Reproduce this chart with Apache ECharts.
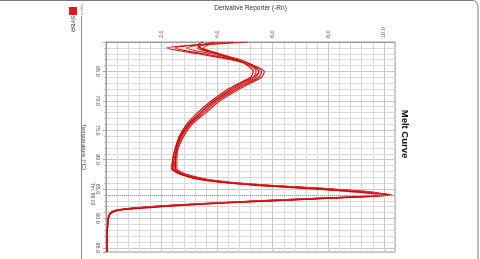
<!DOCTYPE html>
<html>
<head>
<meta charset="utf-8">
<script src="https://cdn.jsdelivr.net/npm/echarts@6/dist/echarts.min.js"></script>
<style>
  html, body { margin: 0; padding: 0; background: #fff; }
  #chart { width: 480px; height: 259px; }
</style>
</head>
<body>
<div id="chart"></div>
<script>
// melt curve, drawn sideways like the scan: temperature runs down, derivative runs right
var temps = [60.0, 60.5, 61.0, 62.0, 63.0, 64.0, 65.0, 66.0, 67.0, 68.0, 70.0, 72.0, 74.0, 76.0, 78.0, 80.0,
  81.5, 82.5, 83.5, 84.3, 85.0, 85.5, 86.0, 86.5, 87.0, 87.5, 88.0, 88.5, 89.0, 90.0, 92.0, 95.7];

var wellA = [5.1, 3.4, 2.2, 3.3, 4.5, 5.3, 5.7, 5.6, 5.2, 4.8, 4.1, 3.6, 3.1, 2.8, 2.6, 2.5,
  2.45, 2.8, 3.6, 5.3, 7.8, 9.2, 10.3, 8.3, 5.7, 3.4, 1.7, 0.5, 0.18, 0.08, 0.05, 0.03];
var wellB = [4.6, 3.2, 2.5, 3.5, 4.6, 5.3, 5.6, 5.5, 5.1, 4.7, 4.0, 3.5, 3.0, 2.7, 2.55, 2.45,
  2.4, 2.75, 3.7, 5.5, 8.0, 9.4, 10.1, 8.1, 5.6, 3.5, 1.8, 0.55, 0.2, 0.09, 0.05, 0.03];
var wellC = [4.2, 3.4, 2.9, 3.8, 4.7, 5.2, 5.5, 5.4, 5.0, 4.6, 3.9, 3.4, 2.95, 2.65, 2.5, 2.4,
  2.35, 2.7, 3.5, 5.2, 7.7, 9.1, 9.9, 8.2, 5.9, 3.7, 1.9, 0.6, 0.2, 0.08, 0.05, 0.03];
var wellD = [3.9, 3.5, 3.3, 4.0, 4.8, 5.3, 5.5, 5.3, 4.9, 4.5, 3.9, 3.4, 3.0, 2.7, 2.55, 2.5,
  2.5, 2.85, 3.8, 5.6, 8.1, 9.5, 10.2, 8.0, 5.5, 3.3, 1.6, 0.5, 0.17, 0.08, 0.05, 0.03];
var wellE = [4.4, 3.7, 3.5, 4.1, 4.8, 5.2, 5.4, 5.3, 4.9, 4.6, 4.0, 3.5, 3.05, 2.75, 2.6, 2.55,
  2.55, 2.9, 3.9, 5.7, 8.2, 9.6, 10.0, 7.9, 5.4, 3.3, 1.6, 0.45, 0.16, 0.07, 0.05, 0.03];
var wellF = [3.5, 3.3, 3.4, 4.0, 4.7, 5.1, 5.3, 5.2, 4.8, 4.4, 3.8, 3.3, 2.9, 2.65, 2.5, 2.4,
  2.4, 2.7, 3.6, 5.3, 7.6, 9.0, 9.8, 8.3, 6.0, 3.8, 2.0, 0.6, 0.2, 0.08, 0.05, 0.03];

var wells = [wellA, wellB, wellC, wellD, wellE, wellF];
var wellColors = ["#d81e1e", "#c81414", "#e02a2a", "#b80f0f", "#dc3434", "#cc0a0a"];
var tm = 86.03;

var FONT = "Liberation Sans";

function buildSeries() {
  return wells.map(function (well, i) {
    var s = {
      name: "SYBR",
      type: "line",
      showSymbol: false,
      smooth: 0.25,
      lineStyle: { width: 1.2, color: wellColors[i] },
      data: temps.map(function (t, k) {
        return [well[k], t];
      }),
    };
    if (i === 0) {
      s.markLine = {
        silent: true,
        symbol: "none",
        label: { show: false },
        lineStyle: { color: "#9a9a9a", type: "dotted", width: 1 },
        data: [{ yAxis: tm }],
      };
    }
    return s;
  });
}

var chart = echarts.init(document.getElementById("chart"), null, { renderer: "canvas" });

var option = {
  animation: false,
  grid: { left: 106, top: 42, width: 289, height: 210, show: true, borderColor: "#9a9a9a", borderWidth: 1 },
  xAxis: {
    type: "value",
    position: "top",
    min: 0,
    max: 10.4,
    interval: 2,
    name: "Derivative Reporter (-Rn)",
    nameLocation: "middle",
    nameGap: 30,
    nameTextStyle: { fontSize: 6.5, color: "#333", fontFamily: FONT },
    axisLine: { show: true, lineStyle: { color: "#9a9a9a" } },
    axisTick: { show: false },
    axisLabel: {
      rotate: -90,
      fontSize: 5.5,
      color: "#555",
      margin: 4,
      fontFamily: FONT,
      showMaxLabel: false,
      formatter: function (v) {
        return v === 0 || Math.abs(v % 2) > 1e-6 ? "" : v.toFixed(1);
      },
    },
    splitLine: { show: true, lineStyle: { color: "#c8c8c8", width: 1 } },
    minorTick: { show: false, splitNumber: 5 },
    minorSplitLine: { show: true, lineStyle: { color: "#dadada", width: 1 } },
  },
  yAxis: {
    type: "value",
    inverse: true,
    min: 60,
    max: 95.7,
    interval: 5,
    name: "Temperature (°C)",
    nameLocation: "middle",
    nameGap: 14,
    nameRotate: -90,
    nameTextStyle: { fontSize: 6, color: "#444", fontFamily: FONT },
    axisLine: { show: true, lineStyle: { color: "#9a9a9a" } },
    axisTick: { show: true, length: 3, lineStyle: { color: "#aaa" } },
    axisLabel: {
      rotate: -90,
      fontSize: 5.5,
      color: "#555",
      margin: 5,
      fontFamily: FONT,
      showMaxLabel: false,
      formatter: function (v) {
        return v === 60 || v % 5 !== 0 ? "" : v.toFixed(1);
      },
    },
    splitLine: { show: true, lineStyle: { color: "#c8c8c8", width: 1 } },
    minorTick: { show: true, splitNumber: 5, length: 2, lineStyle: { color: "#bbb" } },
    minorSplitLine: { show: true, lineStyle: { color: "#dadada", width: 1 } },
  },
  series: buildSeries(),
  graphic: [
    // outer frame of the scan (top and right edges)
    {
      type: "rect",
      silent: true,
      shape: { x: -6, y: 0.5, width: 484, height: 280, r: [0, 6, 0, 0] },
      style: { fill: "none", stroke: "#7a7a7a", lineWidth: 1 },
    },
    {
      type: "line",
      silent: true,
      shape: { x1: 81.5, y1: 16, x2: 81.5, y2: 259 },
      style: { stroke: "#8a8a8a", lineWidth: 1 },
    },
    {
      type: "rect",
      silent: true,
      shape: { x: 69, y: 7, width: 8, height: 8 },
      style: { fill: "#e8141b" },
    },
    {
      type: "text",
      silent: true,
      x: 73,
      y: 24,
      rotation: -Math.PI / 2,
      style: { text: "SYBR", fontSize: 6, fill: "#333", fontFamily: FONT, align: "center", verticalAlign: "middle" },
    },
    {
      type: "text",
      silent: true,
      x: 82,
      y: 9,
      rotation: -Math.PI / 2,
      style: { text: "Legend", fontSize: 3.5, fill: "#777", fontFamily: FONT, align: "center", verticalAlign: "middle" },
    },
    {
      type: "text",
      silent: true,
      x: 92,
      y: 194,
      rotation: -Math.PI / 2,
      style: { text: "Tm: 86.03", fontSize: 5, fill: "#555", fontFamily: FONT, align: "center", verticalAlign: "middle" },
    },
    {
      type: "text",
      silent: true,
      x: 405,
      y: 134,
      rotation: -Math.PI / 2,
      style: { text: "Melt Curve", fontSize: 9.5, fontWeight: "bold", fill: "#111", fontFamily: FONT, align: "center", verticalAlign: "middle" },
    },
  ],
};

chart.setOption(option);
</script>
</body>
</html>
